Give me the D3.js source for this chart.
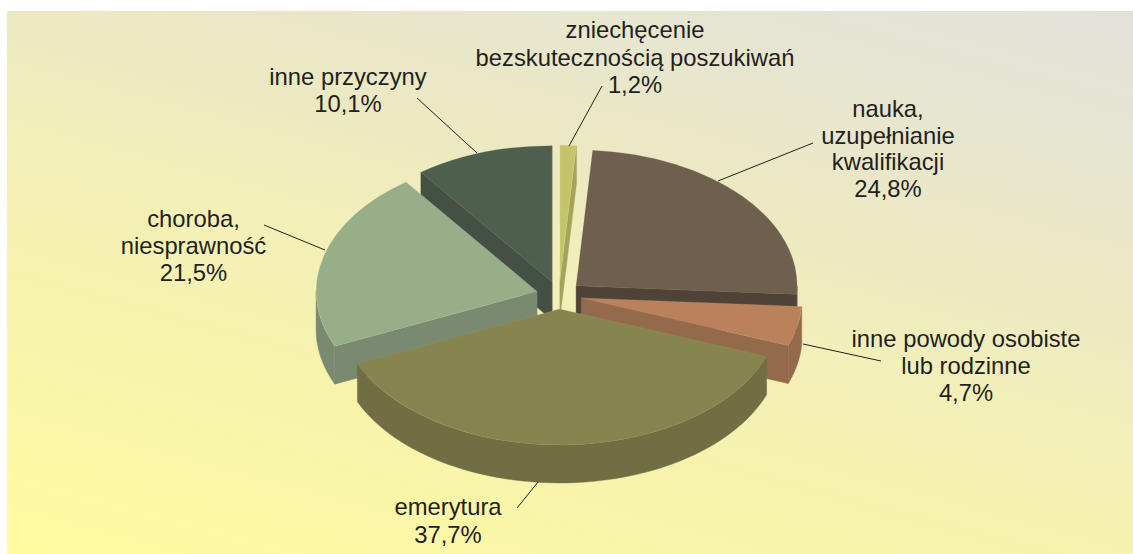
<!DOCTYPE html>
<html lang="pl">
<head>
<meta charset="utf-8">
<script src="https://cdn.jsdelivr.net/npm/d3@7/dist/d3.min.js"></script>
<style>
html,body{margin:0;padding:0;background:#fff;overflow:hidden}
svg{display:block}
text{font-family:"Liberation Sans",Arial,sans-serif;font-size:23.8px;fill:#231f20;text-anchor:middle}
</style>
</head>
<body>
<svg id="chart" width="1133" height="554"></svg>
<script>
// Data, clockwise from 12 o'clock
const categories = [
  ["zniechęcenie", "bezskutecznością poszukiwań"],
  ["nauka,", "uzupełnianie", "kwalifikacji"],
  ["inne powody osobiste", "lub rodzinne"],
  ["emerytura"],
  ["choroba,", "niesprawność"],
  ["inne przyczyny"]
];
const shares = [1.2, 24.8, 4.7, 37.7, 21.5, 10.1];

// Styles
const faceColors = ["#c4c46b", "#6f5f4e", "#b9825c", "#87854f", "#98ae88", "#4f5f4d"];
const wallColors = ["#a3a35b", "#4f4338", "#946a4c", "#706e43", "#7a8a70", "#445043"];

// Layout
const W = 1133, H = 554;
const cx = 559, cy = 295, rx = 221, ry = 136, depth = 38, explode = 22.7;
const paintOrder = [5, 0, 1, 4, 2, 3];            // back to front
const labelAt = [[635, 38.3, 27.2], [888, 117, 26.7], [966, 346.7, 27.2], [448, 515, 27.8], [193.5, 227, 27], [348, 85, 26.8]];
const leaders = [
  [[569, 146], [602, 86]],
  [[718, 181], [813, 143]],
  [[803, 344], [881, 361]],
  [[538, 482], [517, 508]],
  [[325, 250], [264, 225]],
  [[477, 153], [417, 98]]
];

const svg = d3.select("#chart");
const defs = svg.append("defs");
const grad = defs.append("linearGradient").attr("id", "bg")
  .attr("gradientUnits", "userSpaceOnUse")
  .attr("x1", 7).attr("y1", 554).attr("x2", 220).attr("y2", -235);
[["0%", "#fffba0"], ["30%", "#f7f3ac"], ["50%", "#f2efb9"], ["64%", "#ece9c2"], ["100%", "#e2e2dc"]].forEach(([o, c]) =>
  grad.append("stop").attr("offset", o).attr("stop-color", c));

svg.append("rect").attr("x", 7).attr("y", 11).attr("width", W - 7).attr("height", H - 11).attr("fill", "url(#bg)");

const pie = d3.pie().value(d => d).sort(null);
const arcs = pie(shares);
const unitArc = d3.arc().innerRadius(0).outerRadius(1);
const sx = d3.scaleLinear().domain([-1, 1]).range([-rx, rx]);
const sy = d3.scaleLinear().domain([-1, 1]).range([-ry, ry]);
const line = d3.line();

// point on the rim at clockwise angle t (from the top), relative to the slice apex
const rim = t => [sx(Math.sin(t)), sy(-Math.cos(t))];

const slices = svg.append("g").selectAll("g")
  .data(paintOrder.map(i => ({ i, a: arcs[i] })))
  .join("g")
  .attr("transform", ({ a }) => {
    const m = (a.startAngle + a.endAngle) / 2;
    const k = explode / rx;
    return `translate(${cx + sx(k * Math.sin(m))},${cy + sy(-k * Math.cos(m))})`;
  });

slices.each(function ({ i, a }) {
  const g = d3.select(this);
  const wall = wallColors[i];
  const radial = t => [[0, 0], rim(t), [rim(t)[0], rim(t)[1] + depth], [0, depth]];
  // radial walls facing the viewer
  if (Math.sin(a.startAngle) < 0) {
    g.append("path").attr("d", line(radial(a.startAngle)) + "Z").attr("fill", wall).attr("stroke", wall).attr("stroke-width", .4);
  }
  if (Math.sin(a.endAngle) > 0) {
    g.append("path").attr("d", line(radial(a.endAngle)) + "Z").attr("fill", wall).attr("stroke", wall).attr("stroke-width", .4);
  }
  // outer wall on the near half of the rim
  const t0 = Math.max(a.startAngle, Math.PI / 2), t1 = Math.min(a.endAngle, 3 * Math.PI / 2);
  if (t1 > t0) {
    const ts = d3.range(0, 61).map(j => t0 + (t1 - t0) * j / 60);
    const pts = ts.map(rim).concat(ts.slice().reverse().map(t => [rim(t)[0], rim(t)[1] + depth]));
    g.append("path").attr("d", line(pts) + "Z").attr("fill", wall).attr("stroke", wall).attr("stroke-width", .4);
  }
  // top face
  g.append("path")
    .attr("d", unitArc(a))
    .attr("transform", `scale(${rx},${ry})`)
    .attr("fill", faceColors[i])
    .attr("stroke", d3.color(faceColors[i]).brighter(0.6))
    .attr("stroke-opacity", .3)
    .attr("stroke-width", .6)
    .attr("vector-effect", "non-scaling-stroke");
});

// leader lines
svg.append("g").selectAll("path").data(leaders).join("path")
  .attr("d", d => line(d)).attr("fill", "none").attr("stroke", "#231f20").attr("stroke-width", 1);

// labels
const fmt = v => v.toFixed(1).replace(".", ",") + "%";
categories.forEach((lines, i) => {
  const [x, y, lh] = labelAt[i];
  const t = svg.append("text").attr("x", x).attr("y", y);
  lines.concat(fmt(shares[i])).forEach((s, j) => {
    t.append("tspan").attr("x", x).attr("y", y + j * lh).text(s);
  });
});
</script>
</body>
</html>
